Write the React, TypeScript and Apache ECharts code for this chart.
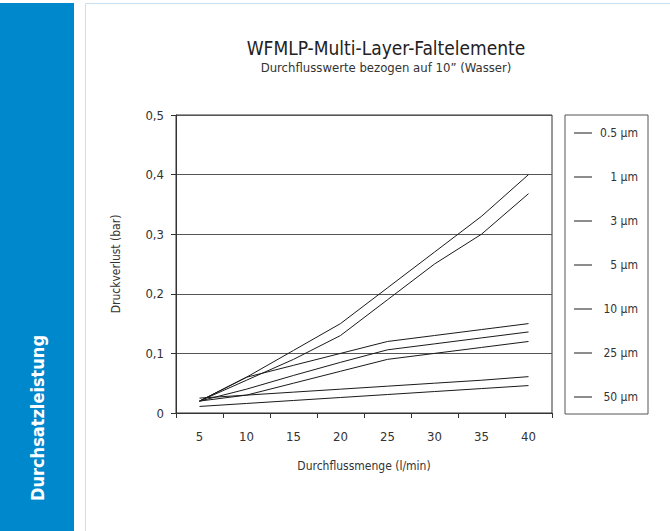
import React, { useEffect, useRef } from "react";
import * as echarts from "echarts";

const categories = ["5", "10", "15", "20", "25", "30", "35", "40"];
const seriesNames = ["0.5 µm", "1 µm", "3 µm", "5 µm", "10 µm", "25 µm", "50 µm"];
const s05 = [0.02, 0.06, 0.105, 0.15, 0.21, 0.27, 0.33, 0.4];
const s1 = [0.02, 0.055, 0.09, 0.13, 0.19, 0.25, 0.3, 0.368];
const s3 = [0.02, 0.06, 0.08, 0.1, 0.12, 0.13, 0.14, 0.15];
const s5 = [0.02, 0.04, 0.063, 0.085, 0.106, 0.116, 0.126, 0.136];
const s10 = [0.02, 0.03, 0.05, 0.07, 0.09, 0.1, 0.11, 0.12];
const s25 = [0.025, 0.03, 0.035, 0.04, 0.045, 0.05, 0.055, 0.061];
const s50 = [0.011, 0.016, 0.021, 0.026, 0.031, 0.036, 0.041, 0.046];
const seriesValues = [s05, s1, s3, s5, s10, s25, s50];

const yTitle = "Druckverlust (bar)";
const xTitle = "Durchflussmenge (l/min)";
const mainTitle = "WFMLP-Multi-Layer-Faltelemente";
const subTitle = "Durchflusswerte bezogen auf 10\u201D (Wasser)";
const sideLabel = "Durchsatzleistung";

const FONT = "'DejaVu Sans Condensed', 'Liberation Sans Narrow', Roboto, sans-serif";

export default function App() {
  const ref = useRef<HTMLDivElement>(null);
  useEffect(() => {
    if (!ref.current) return;
    const chart = echarts.init(ref.current, undefined, { renderer: "svg" });
    chart.setOption({
      animation: false,
      backgroundColor: "#ffffff",
      textStyle: { fontFamily: FONT },
      title: [
        {
          text: mainTitle,
          left: 381,
          top: 33,
          textAlign: "center",
          textStyle: { fontFamily: FONT, fontSize: 19, fontWeight: "normal", color: "#222" },
        },
        {
          text: subTitle,
          left: 381,
          top: 56,
          textAlign: "center",
          textStyle: { fontFamily: FONT, fontSize: 13, fontWeight: "normal", color: "#333" },
        },
      ],
      graphic: [
        { type: "rect", shape: { x: 0, y: 3, width: 74, height: 530 }, style: { fill: "#0088cc" }, silent: true },
        {
          type: "rect",
          shape: { x: 85.5, y: 3.5, width: 600, height: 540 },
          style: { fill: "none", stroke: "#c9dff2", lineWidth: 1 },
          silent: true,
        },
        {
          type: "text",
          x: 37,
          y: 418,
          rotation: Math.PI / 2,
          style: {
            text: sideLabel,
            fill: "#ffffff",
            font: `bold 18px ${FONT}`,
            align: "center",
            verticalAlign: "middle",
          },
          silent: true,
        },
      ],
      legend: {
        orient: "vertical",
        left: 565,
        top: 115,
        padding: [11, 10, 10, 9],
        itemGap: 30,
        itemWidth: 18,
        itemHeight: 1,
        icon: "rect",
        borderColor: "#555",
        borderWidth: 1,
        data: seriesNames,
        formatter: (name: string) => `{r|${name}}`,
        textStyle: {
          rich: { r: { width: 41, height: 14, lineHeight: 14, align: "right", fontSize: 12, color: "#333", fontFamily: FONT } },
        },
      },
      grid: {
        left: 176,
        right: 118,
        top: 115,
        bottom: 118,
        show: true,
        borderColor: "#333",
        borderWidth: 1,
      },
      xAxis: {
        type: "category",
        data: categories,
        boundaryGap: true,
        name: xTitle,
        nameLocation: "middle",
        nameGap: 47,
        nameTextStyle: { fontFamily: FONT, fontSize: 12, color: "#333" },
        axisLine: { lineStyle: { color: "#333", width: 1 } },
        axisTick: { show: true, length: 5, lineStyle: { color: "#333" } },
        axisLabel: { margin: 17, fontSize: 13, color: "#333", fontFamily: FONT },
        splitLine: { show: false },
      },
      yAxis: {
        type: "value",
        min: 0,
        max: 0.5,
        interval: 0.1,
        name: yTitle,
        nameLocation: "middle",
        nameGap: 54,
        nameTextStyle: { fontFamily: FONT, fontSize: 12, color: "#333" },
        axisLine: { show: true, lineStyle: { color: "#333", width: 1 } },
        axisTick: { show: true, length: 5, lineStyle: { color: "#333" } },
        axisLabel: {
          margin: 12,
          fontSize: 13,
          color: "#333",
          fontFamily: FONT,
          formatter: (v: number) => (v === 0 ? "0" : v.toFixed(1).replace(".", ",")),
        },
        splitLine: { show: true, lineStyle: { color: "#555", width: 1 } },
      },
      series: seriesNames.map((name, i) => ({
        name,
        type: "line",
        data: seriesValues[i],
        symbol: "none",
        lineStyle: { color: "#1a1a1a", width: 1 },
        itemStyle: { color: "#1a1a1a" },
      })),
    });
    return () => chart.dispose();
  }, []);
  return (
    <div
      ref={ref}
      style={{ position: "fixed", left: 0, top: 0, width: 670, height: 531 }}
    />
  );
}
